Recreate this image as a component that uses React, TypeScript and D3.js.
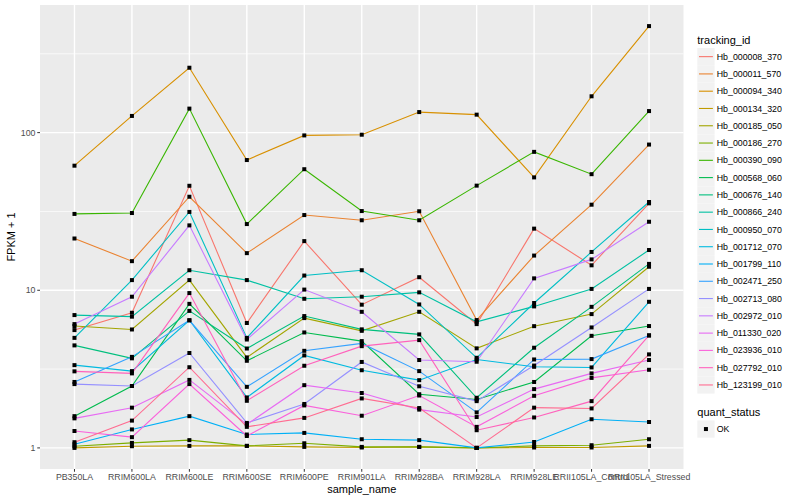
import * as d3 from "d3";
import React from "react";

const samples = [
  "PB350LA", "RRIM600LA", "RRIM600LE", "RRIM600SE", "RRIM600PE", "RRIM901LA",
  "RRIM928BA", "RRIM928LA", "RRIM928LE", "RRII105LA_Control", "RRII105LA_Stressed",
];

const trackingIds = [
  "Hb_000008_370", "Hb_000011_570", "Hb_000094_340", "Hb_000134_320", "Hb_000185_050",
  "Hb_000186_270", "Hb_000390_090", "Hb_000568_060", "Hb_000676_140", "Hb_000866_240",
  "Hb_000950_070", "Hb_001712_070", "Hb_001799_110", "Hb_002471_250", "Hb_002713_080",
  "Hb_002972_010", "Hb_011330_020", "Hb_023936_010", "Hb_027792_010", "Hb_123199_010",
];

// ggplot2 default hue palette for 20 levels
const palette = [
  "#F8766D", "#EA8331", "#D89000", "#C09B00", "#A3A500", "#7CAE00", "#39B600",
  "#00BB4E", "#00BF7D", "#00C1A3", "#00BFC4", "#00BAE0", "#00B0F6", "#35A2FF",
  "#9590FF", "#C77CFF", "#E76BF3", "#FA62DB", "#FF62BC", "#FF6C91",
];

// FPKM + 1, one row per tracking_id, one value per sample
const fpkm: number[][] = [
  [5.59, 7.2, 46, 6.2, 20.5, 8.1, 12.1, 6.1, 24.6, 14.4, 35.6],
  [21.3, 15.3, 39.2, 17.2, 30, 27.8, 31.7, 6.47, 16.6, 34.9, 84],
  [61.7, 127.6, 258, 67, 96, 97, 135, 130, 52, 170, 474],
  [1.0, 1.025, 1.03, 1.03, 1.015, 1.006, 1.015, 1.0, 1.006, 1.006, 1.03],
  [5.93, 5.64, 11.6, 3.75, 6.66, 5.53, 7.3, 4.28, 5.92, 7.06, 14.1],
  [1.025, 1.076, 1.12, 1.03, 1.07, 1.015, 1.015, 1.0, 1.03, 1.04, 1.135],
  [30.5, 30.9, 142, 26.3, 58.6, 31.8, 27.8, 46.1, 75.5, 54.5, 137],
  [1.59, 2.47, 8.2, 3.57, 5.4, 4.76, 2.19, 2.03, 2.62, 5.14, 5.93],
  [4.47, 3.7, 7.4, 4.27, 6.86, 5.65, 5.25, 2.08, 4.32, 7.85, 14.7],
  [6.96, 6.8, 13.4, 11.6, 8.83, 9.1, 9.7, 6.31, 7.9, 10.2, 18.0],
  [4.99, 11.6, 31.4, 4.99, 12.4, 13.4, 8.13, 3.73, 8.3, 17.5, 36.3],
  [3.35, 3.07, 6.45, 2.09, 3.86, 3.11, 2.69, 3.64, 3.27, 3.24, 8.45],
  [1.056, 1.31, 1.59, 1.216, 1.245, 1.135, 1.12, 1.0, 1.09, 1.52, 1.46],
  [2.62, 3.78, 6.45, 2.44, 4.13, 4.6, 3.07, 1.68, 3.64, 3.66, 5.17],
  [2.54, 2.47, 4.0, 1.44, 1.9, 3.51, 2.46, 1.98, 3.33, 5.81, 10.2],
  [6.1, 9.1, 25.8, 4.87, 10.1, 7.3, 3.61, 3.52, 11.9, 15.7, 27.2],
  [1.54, 1.8, 2.7, 1.41, 2.5, 2.23, 1.75, 1.57, 2.36, 2.97, 3.61],
  [1.28, 1.17, 2.54, 1.19, 1.86, 1.6, 2.15, 1.36, 2.14, 2.78, 3.13],
  [3.06, 2.97, 9.6, 1.99, 3.32, 4.42, 4.83, 1.295, 1.56, 1.98, 5.17],
  [1.087, 1.49, 3.25, 1.36, 1.55, 2.06, 1.79, 1.0, 1.8, 1.78, 3.92],
];

const yTicks = [1, 10, 100];
const yMinor = [Math.sqrt(10), Math.sqrt(1000), Math.sqrt(100000)];

const W = 800;
const H = 500;
const panel = { left: 40, right: 683.5, top: 5, bottom: 469 };
const font = "'Liberation Sans', Arial, Helvetica, sans-serif";

export default function App() {
  const x = d3
    .scalePoint<string>()
    .domain(samples)
    .range([panel.left, panel.right])
    .padding(0.6);

  const all = fpkm.flat();
  const lo = Math.log10(d3.min(all) as number);
  const hi = Math.log10(d3.max(all) as number);
  const ex = (hi - lo) * 0.05;
  const y = d3
    .scaleLog()
    .domain([Math.pow(10, lo - ex), Math.pow(10, hi + ex)])
    .range([panel.bottom, panel.top]);

  const line = d3
    .line<number>()
    .x((_, i) => x(samples[i]) as number)
    .y((d) => y(d));

  const keySize = 17.28;
  const legX = 697.3;
  const legTop = 48;
  const qsTop = 420.4;

  return (
    <svg
      width={W}
      height={H}
      style={{ position: "absolute", left: 0, top: 0, background: "#fff" }}
      fontFamily={font}
    >
      <rect
        x={panel.left}
        y={panel.top}
        width={panel.right - panel.left}
        height={panel.bottom - panel.top}
        fill="#EBEBEB"
      />
      {yMinor.map((v) => (
        <line key={"mn" + v} x1={panel.left} x2={panel.right} y1={y(v)} y2={y(v)} stroke="#fff" strokeWidth={0.7} />
      ))}
      {yTicks.map((v) => (
        <line key={"mj" + v} x1={panel.left} x2={panel.right} y1={y(v)} y2={y(v)} stroke="#fff" strokeWidth={1.4} />
      ))}
      {samples.map((s) => (
        <line key={"vx" + s} x1={x(s)} x2={x(s)} y1={panel.top} y2={panel.bottom} stroke="#fff" strokeWidth={1.4} />
      ))}

      {fpkm.map((row, i) => (
        <path key={trackingIds[i]} d={line(row) as string} fill="none" stroke={palette[i]} strokeWidth={1.1} />
      ))}
      {fpkm.map((row, i) =>
        row.map((v, j) => (
          <rect
            key={trackingIds[i] + j}
            x={(x(samples[j]) as number) - 2}
            y={y(v) - 2}
            width={4}
            height={4}
            fill="#000"
          />
        ))
      )}

      {/* y axis */}
      {yTicks.map((v) => (
        <g key={"yt" + v}>
          <line x1={panel.left - 2.75} x2={panel.left} y1={y(v)} y2={y(v)} stroke="#333" strokeWidth={1} />
          <text x={panel.left - 4.5} y={y(v)} dy="0.35em" textAnchor="end" fontSize={8.8} fill="#4D4D4D">
            {v}
          </text>
        </g>
      ))}
      {/* x axis */}
      {samples.map((s) => (
        <g key={"xt" + s}>
          <line x1={x(s)} x2={x(s)} y1={panel.bottom} y2={panel.bottom + 2.75} stroke="#333" strokeWidth={1} />
          <text x={x(s)} y={panel.bottom + 10.5} textAnchor="middle" fontSize={8.8} fill="#4D4D4D">
            {s}
          </text>
        </g>
      ))}
      <text x={(panel.left + panel.right) / 2} y={493} textAnchor="middle" fontSize={11} fill="#000">
        sample_name
      </text>
      <text
        transform={`translate(15,${(panel.top + panel.bottom) / 2}) rotate(-90)`}
        textAnchor="middle"
        fontSize={11}
        fill="#000"
      >
        FPKM + 1
      </text>

      {/* legend: tracking_id */}
      <text x={legX} y={43.5} fontSize={11} fill="#000">
        tracking_id
      </text>
      {trackingIds.map((id, i) => {
        const ty = legTop + i * keySize;
        return (
          <g key={"lg" + id}>
            <rect x={legX} y={ty} width={keySize} height={keySize} fill="#F2F2F2" />
            <line
              x1={legX + 1.7}
              x2={legX + keySize - 1.7}
              y1={ty + keySize / 2}
              y2={ty + keySize / 2}
              stroke={palette[i]}
              strokeWidth={1.1}
            />
            <text x={legX + keySize + 2.2} y={ty + keySize / 2} dy="0.35em" fontSize={8.8} fill="#000">
              {id}
            </text>
          </g>
        );
      })}

      {/* legend: quant_status */}
      <text x={legX} y={416} fontSize={11} fill="#000">
        quant_status
      </text>
      <rect x={legX} y={qsTop} width={keySize} height={keySize} fill="#F2F2F2" />
      <rect x={legX + keySize / 2 - 2} y={qsTop + keySize / 2 - 2} width={4} height={4} fill="#000" />
      <text x={legX + keySize + 2.2} y={qsTop + keySize / 2} dy="0.35em" fontSize={8.8} fill="#000">
        OK
      </text>
    </svg>
  );
}
